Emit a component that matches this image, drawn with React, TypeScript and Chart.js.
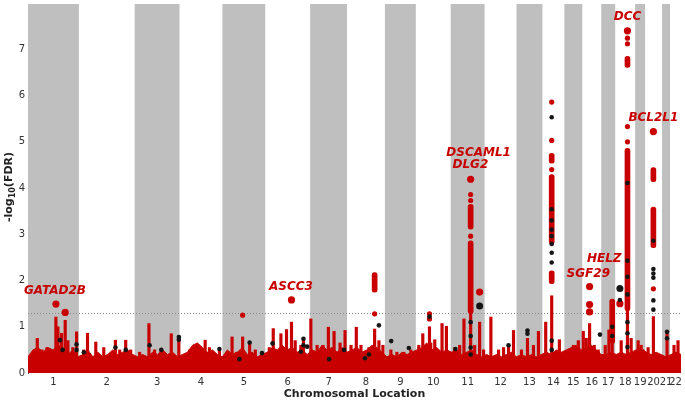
import { useEffect, useRef } from 'react';
import { Chart, registerables } from 'chart.js';
Chart.register(...registerables);

// ---- Chromosomes (relative widths) ----
const chromLabels = ['1','2','3','4','5','6','7','8','9','10','11','12','13','14','15','16','17','18','19','20','21','22'];
const chromSizes = [51,56,45,43,43,45,37,38,31,35,34,32,26,22,18,19,14,20,10,17,8,11];

// ---- Dense background band of low -log10(FDR) values, sampled every bandStep units ----
const bandStep = 5;
const bandY = [
  0.35,0.5,0.55,0.45,0.55,0.5,0.6,0.55,0.4,0.5,0.35,
  0.4,0.5,0.35,0.45,0.35,0.4,0.5,0.4,0.45,0.5,0.4,
  0.35,0.4,0.35,0.45,0.4,0.5,0.4,0.45,0.35,
  0.4,0.45,0.6,0.65,0.55,0.45,0.5,0.4,
  0.35,0.5,0.4,0.45,0.55,0.4,0.45,0.35,0.4,
  0.45,0.55,0.5,0.6,0.5,0.55,0.45,0.5,0.4,
  0.5,0.45,0.6,0.5,0.55,0.45,0.55,0.45,
  0.5,0.55,0.45,0.5,0.6,0.55,0.45,
  0.35,0.4,0.35,0.45,0.4,0.45,
  0.5,0.55,0.65,0.5,0.55,0.45,0.5,
  0.45,0.5,0.4,0.45,0.5,0.4,0.35,
  0.4,0.35,0.4,0.35,0.4,0.45,0.35,
  0.4,0.35,0.4,0.35,0.4,
  0.45,0.4,0.5,0.45,
  0.5,0.55,0.6,0.5,
  0.55,0.6,0.5,0.4,
  0.4,0.45,
  0.4,0.45,0.4,0.45,
  0.5,0.55,
  0.45,0.4,0.45,0.4,
  0.35,
  0.4,0.45,0.4,
];

// ---- Thin columns of SNPs rising from 0 (position, top value) ----
const thinX = [
  9.3,14,19,28,30,33.7,37.3,40,45,48.7,
  56,59.7,68,76,87.7,92,98,103,
  112,121.3,127,133.7,143.7,151.3,
  162,170,177.7,182,192,
  204.7,209,215.3,222.3,228,234.7,
  242,246,253.7,259.3,264.3,268,273.7,276.3,
  283.7,290,296,301.3,307,313,318,
  324,329.3,334,342,347.7,352,356,
  364,370,377,384,
  392,396,402.7,404,408,415.3,419.7,
  428,433,437.3,444,448,453,457,
  464.3,472,477,482,487,
  495,501,507,512,
  519.3,525.3,533,
  542,547,552,
  557,560,563.3,568,572,
  579,582.7,586,
  595,601.3,605,
  612,615,
  622,627.3,
  641,
  648,652,
];
const thinTop = [
  0.75,0.5,0.55,1.21,1.0,0.86,1.14,0.7,0.55,0.89,
  0.5,0.86,0.67,0.55,0.71,0.5,0.71,0.5,
  0.45,1.07,0.5,0.5,0.85,0.78,
  0.5,0.6,0.71,0.55,0.52,
  0.78,0.45,0.78,0.66,0.5,0.43,
  0.55,0.96,0.85,0.94,1.1,0.7,0.6,0.74,
  1.17,0.6,0.6,0.99,0.9,0.65,0.92,
  0.6,0.99,0.6,0.55,0.95,0.7,0.6,
  0.5,0.45,0.45,0.5,
  0.6,0.85,1.0,0.65,0.72,1.07,1.01,
  0.55,0.6,1.17,1.29,0.6,1.1,0.5,
  1.21,0.5,0.55,0.6,0.92,
  0.5,0.75,0.6,0.9,
  1.1,1.67,0.72,
  0.5,0.6,0.7,
  0.9,0.75,1.07,0.6,0.5,
  0.6,0.93,0.64,
  0.7,1.35,0.75,
  0.7,0.6,
  0.55,1.22,
  0.89,
  0.6,0.7,
];

// ---- Dense runs of significant SNPs (position, low, high) ----
const runX = [347.7, 444, 444, 525.3, 525.3, 525.3, 586, 601.3, 601.3, 627.3, 627.3];
const runLo = [1.75, 1.29, 3.11, 1.93, 2.79, 4.54, 0.64, 1.35, 6.61, 2.71, 4.14];
const runHi = [2.17, 2.86, 3.65, 2.21, 4.29, 4.75, 1.6, 4.86, 6.85, 3.59, 4.44];

// ---- Isolated red SNPs ----
const redX = [215.3, 347.7, 402.7, 402.7, 444, 444, 444, 525.3, 525.3, 525.3, 601.3, 601.3, 601.3, 601.3, 627.3];
const redY = [1.25, 1.28, 1.17, 1.28, 3.73, 3.86, 2.96, 5.86, 5.03, 4.4, 7.24, 7.12, 5.33, 5.0, 1.82];

// ---- Lead (labelled) red SNPs ----
const leadX = [28, 37.3, 264.3, 453, 444, 563.3, 563.3, 563.3, 593.7, 601.3, 627.3];
const leadY = [1.49, 1.31, 1.58, 1.75, 4.19, 1.87, 1.48, 1.32, 1.5, 7.40, 5.22];

// ---- Black SNPs ----
const blackX = [
  32,34.7,48.7,48.7,56,87.7,98,122,133.7,151.3,151.3,192,212,222.3,234.7,245.3,
  273.7,276.3,276.3,280,302,317,338,342,352,364.3,382,402.7,428.7,
  444,444,444,444,482,501,501,
  525.3,525.3,525.3,525.3,525.3,525.3,525.3,525.3,525.3,525.3,
  573.7,586,586,593.7,
  601.3,601.3,601.3,601.3,601.3,601.3,601.3,
  627.3,627.3,627.3,627.3,627.3,627.3,641,641,
];
const blackY = [
  0.71,0.5,0.62,0.5,0.45,0.55,0.5,0.6,0.5,0.78,0.72,0.52,0.3,0.66,0.43,0.64,
  0.46,0.74,0.6,0.57,0.3,0.5,0.32,0.4,1.03,0.69,0.54,1.22,0.52,
  1.1,0.8,0.55,0.4,0.6,0.92,0.85,
  5.53,3.54,3.3,3.1,2.96,2.79,2.6,2.39,0.7,0.5,
  0.83,1.0,0.8,1.58,
  4.11,2.43,2.08,1.7,1.1,0.86,0.56,
  2.86,2.25,2.15,2.06,1.57,1.37,0.89,0.75,
];
const leadBlackX = [453, 593.7];
const leadBlackY = [1.45, 1.83];

// ---- Gene annotations ----
const geneLabels = ['GATAD2B', 'ASCC3', 'DSCAML1', 'DLG2', 'HELZ', 'SGF29', 'DCC', 'BCL2L1'];
const geneLabelX = [27, 263.7, 452, 443.7, 578, 562, 601.3, 627.3];
const geneLabelY = [1.78, 1.87, 4.75, 4.5, 2.47, 2.15, 7.70, 5.51];

const threshold = 1.3;
const yTicks = [0, 1, 2, 3, 4, 5, 6, 7];

const RED = '#c80000';
const BLACK = '#151515';
const BAND = '#bfbfbf';
const FONT = '"DejaVu Sans"';

export default function App() {
  const ref = useRef<HTMLCanvasElement | null>(null);
  useEffect(() => {
    const canvas = ref.current;
    if (!canvas) return;
    const starts: number[] = [];
    let acc = 0;
    chromSizes.forEach((s) => { starts.push(acc); acc += s; });
    const total = acc;
    const centers = chromSizes.map((s, i) => starts[i] + s / 2);

    const bandsPlugin = {
      id: 'bands',
      beforeDatasetsDraw(chart: any) {
        const { ctx, chartArea, scales } = chart;
        const xs = scales.x;
        ctx.save();
        ctx.fillStyle = BAND;
        chromSizes.forEach((s, i) => {
          if (i % 2 === 0) {
            const a = xs.getPixelForValue(starts[i]);
            const b = xs.getPixelForValue(starts[i] + s);
            ctx.fillRect(a, chartArea.top, b - a, chartArea.bottom - chartArea.top);
          }
        });
        const ty = scales.y.getPixelForValue(threshold);
        ctx.strokeStyle = '#8a8a8a';
        ctx.lineWidth = 1;
        ctx.setLineDash([1, 2]);
        ctx.beginPath();
        ctx.moveTo(chartArea.left, Math.round(ty) + 0.5);
        ctx.lineTo(chartArea.right, Math.round(ty) + 0.5);
        ctx.stroke();
        ctx.restore();
      },
    };

    const textPlugin = {
      id: 'texts',
      afterDraw(chart: any) {
        const { ctx, scales, chartArea } = chart;
        ctx.save();
        ctx.fillStyle = RED;
        ctx.font = `italic bold 12px ${FONT}`;
        ctx.textAlign = 'center';
        ctx.textBaseline = 'middle';
        geneLabels.forEach((g, i) => {
          ctx.fillText(g, scales.x.getPixelForValue(geneLabelX[i]), scales.y.getPixelForValue(geneLabelY[i]));
        });
        // x title
        ctx.fillStyle = '#222';
        ctx.font = `bold 11px ${FONT}`;
        ctx.fillText('Chromosomal Location', (chartArea.left + chartArea.right) / 2, 394);
        // y title with subscript
        ctx.translate(9, 187);
        ctx.rotate(-Math.PI / 2);
        const big = `bold 11px ${FONT}`;
        const small = `bold 8px ${FONT}`;
        ctx.textAlign = 'left';
        ctx.font = big;
        const w1 = ctx.measureText('-log').width;
        const w3 = ctx.measureText('(FDR)').width;
        ctx.font = small;
        const w2 = ctx.measureText('10').width;
        let x0 = -(w1 + w2 + w3) / 2;
        ctx.font = big;
        ctx.fillText('-log', x0, 0);
        x0 += w1;
        ctx.font = small;
        ctx.fillText('10', x0, 4);
        x0 += w2;
        ctx.font = big;
        ctx.fillText('(FDR)', x0, 0);
        ctx.restore();
      },
    };

    const chart = new Chart(canvas, {
      type: 'scatter',
      data: {
        datasets: [
          {
            type: 'scatter',
            data: leadBlackX.map((x, i) => ({ x, y: leadBlackY[i] })),
            pointRadius: 3.5,
            pointBackgroundColor: BLACK,
            pointBorderWidth: 0,
            order: 0,
          },
          {
            type: 'scatter',
            data: blackX.map((x, i) => ({ x, y: blackY[i] })),
            pointRadius: 2.3,
            pointBackgroundColor: BLACK,
            pointBorderWidth: 0,
            order: 1,
          },
          {
            type: 'scatter',
            data: leadX.map((x, i) => ({ x, y: leadY[i] })),
            pointRadius: 3.6,
            pointBackgroundColor: RED,
            pointBorderWidth: 0,
            order: 2,
          },
          {
            type: 'scatter',
            data: redX.map((x, i) => ({ x, y: redY[i] })),
            pointRadius: 2.6,
            pointBackgroundColor: RED,
            pointBorderWidth: 0,
            order: 3,
          },
          {
            type: 'bar',
            data: runX.map((x, i) => ({ x, y: [runLo[i], runHi[i]] })),
            backgroundColor: RED,
            barThickness: 5,
            borderRadius: 2.5,
            borderSkipped: false,
            grouped: false,
            order: 4,
          } as any,
          {
            type: 'bar',
            data: thinX.map((x, i) => ({ x, y: [0, thinTop[i]] })),
            backgroundColor: RED,
            barThickness: 2.5,
            grouped: false,
            order: 5,
          } as any,
          {
            type: 'line',
            data: bandY.map((y, i) => ({ x: i * bandStep, y })),
            borderColor: RED,
            borderWidth: 1,
            backgroundColor: RED,
            fill: 'origin',
            pointRadius: 0,
            tension: 0,
            order: 6,
          },
        ],
      },
      options: {
        animation: false,
        responsive: false,
        devicePixelRatio: 1,
        events: [],
        layout: { padding: { top: 2, right: 2, left: 0, bottom: 0 } },
        plugins: { legend: { display: false }, tooltip: { enabled: false }, title: { display: false } },
        scales: {
          x: {
            type: 'linear',
            min: 0,
            max: total,
            offset: false,
            grid: { display: false, drawTicks: false },
            border: { display: false },
            afterBuildTicks: (s: any) => { s.ticks = centers.map((v) => ({ value: v })); },
            afterFit: (s: any) => { s.height = 27; s.paddingLeft = 0; s.paddingRight = 0; },
            ticks: {
              autoSkip: false,
              maxRotation: 0,
              minRotation: 0,
              padding: 3,
              color: '#333',
              font: { family: FONT, size: 10 },
              callback: (_v: any, i: number) => chromLabels[i],
            },
          },
          y: {
            type: 'linear',
            min: 0,
            max: 7.98,
            grid: { display: false, drawTicks: false },
            border: { display: true, color: '#555', width: 1 },
            afterBuildTicks: (s: any) => { s.ticks = yTicks.map((v) => ({ value: v })); },
            afterFit: (s: any) => { s.width = 28; s.paddingTop = 0; s.paddingBottom = 0; },
            ticks: {
              padding: 3,
              color: '#333',
              font: { family: FONT, size: 10 },
            },
          },
        },
      },
      plugins: [bandsPlugin, textPlugin],
    } as any);
    return () => chart.destroy();
  }, []);

  return (
    <div style={{ position: 'fixed', left: 0, top: 0, width: 685, height: 400, background: '#fff' }}>
      <canvas ref={ref} width={685} height={400} />
    </div>
  );
}
